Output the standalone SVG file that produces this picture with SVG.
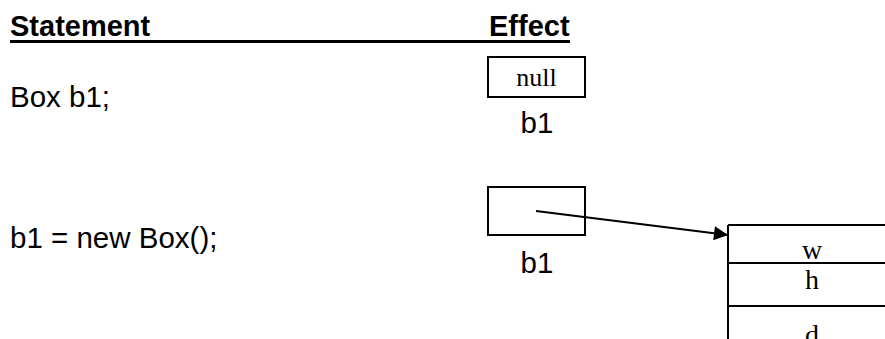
<svg xmlns="http://www.w3.org/2000/svg" width="885" height="339" viewBox="0 0 885 339">
<style>
.sans{font-family:"Liberation Sans",Arial,sans-serif;fill:#000}
.hd{font-weight:bold;font-size:29px}
.st{font-size:29.5px}
.serif{font-family:"Liberation Serif","Times New Roman",serif;font-size:26px;fill:#000}
.fld{font-size:28px}
.box{fill:none;stroke:#000;stroke-width:2}
.ln{stroke:#000;stroke-width:2}
</style>
<defs>
<marker id="ah" viewBox="0 0 10 10" refX="10" refY="5" markerWidth="16" markerHeight="14" markerUnits="userSpaceOnUse" orient="auto">
<path d="M0,0 L10,5 L0,10 z" fill="#000"/>
</marker>
</defs>
<rect width="885" height="339" fill="#fff"/>
<g id="header">
<text class="sans hd" x="10" y="36">Statement</text>
<text class="sans hd" x="489" y="36">Effect</text>
<line x1="10" y1="41.5" x2="570" y2="41.5" stroke="#000" stroke-width="3"/>
</g>
<g id="stmt1">
<text class="sans st" x="10" y="107">Box b1;</text>
</g>
<g id="stmt2">
<text class="sans st" x="10" y="248">b1 = new Box();</text>
</g>
<g id="b1-null">
<rect class="box" x="488" y="57" width="97" height="40"/>
<text class="serif" x="536.5" y="86" text-anchor="middle">null</text>
<text class="sans st" x="537" y="133" text-anchor="middle">b1</text>
</g>
<g id="b1-ref">
<rect class="box" x="488" y="187" width="97" height="48"/>
<text class="sans st" x="537" y="273" text-anchor="middle">b1</text>
</g>
<g id="box-object">
<line class="ln" x1="728" y1="225" x2="885" y2="225"/>
<line class="ln" x1="728" y1="225" x2="728" y2="339"/>
<line class="ln" x1="728" y1="263" x2="885" y2="263"/>
<line class="ln" x1="728" y1="306" x2="885" y2="306"/>
<text class="serif fld" x="812" y="259" text-anchor="middle">w</text>
<text class="serif fld" x="812" y="289" text-anchor="middle">h</text>
<text class="serif fld" x="812" y="344" text-anchor="middle">d</text>
</g>
<g id="connectors">
<line x1="536" y1="211" x2="728" y2="235" stroke="#000" stroke-width="2" marker-end="url(#ah)"/>
</g>
</svg>
